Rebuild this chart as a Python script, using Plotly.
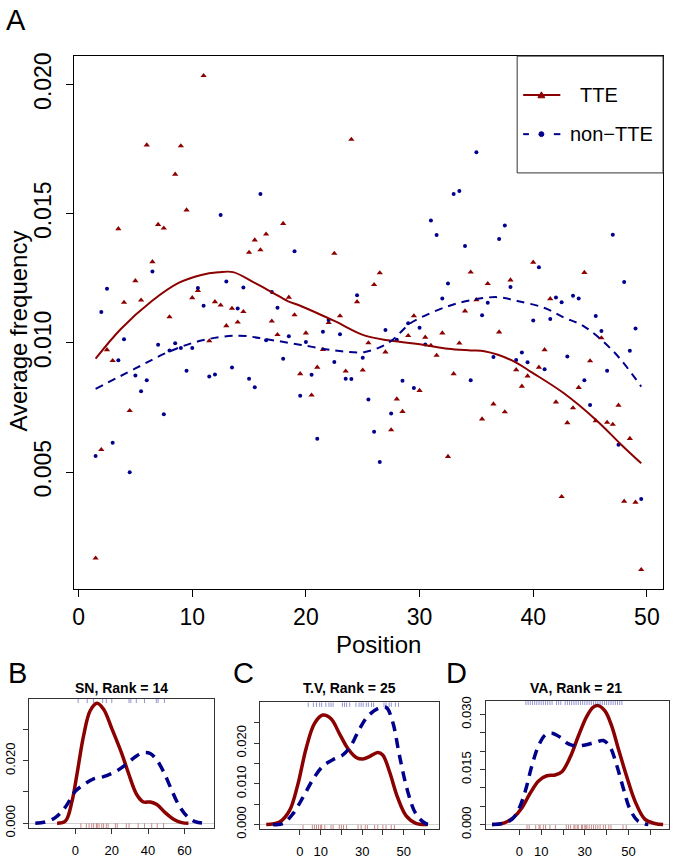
import plotly.graph_objects as go

W, H = 674, 863
FONT = "Liberation Sans, Arial, Helvetica, sans-serif"
RED = "#8B0000"
BLUE = "#00008B"

# ---------------- Panel A data ----------------
positions = [round(1.5 + 0.5 * i, 1) for i in range(97)]

tte_freq = [
    0.001668, 0.005866, 0.009733, 0.009313, 0.014416, 0.011565, 0.007378, 0.012405, 0.011653, 0.017660,
    0.013141, 0.014580, 0.014439, 0.011004, 0.016527, 0.017622, 0.015141, 0.011744, 0.012023, 0.020344,
    0.010076, 0.011592, 0.011462, 0.010660, 0.011336, 0.010802, 0.011210, 0.013500, 0.013981, 0.013599,
    0.014210, 0.010840, 0.010317, 0.014618, 0.011767, 0.011080, 0.008805, 0.010382, 0.007977, 0.009057,
    0.009744, 0.010782, 0.013462, 0.011042, 0.008905, 0.017874, 0.011592, 0.008943, 0.010000, 0.012252,
    0.012710, 0.009645, 0.006630, 0.007824, 0.007340, 0.010279, 0.011042, 0.008156, 0.010218, 0.009897,
    0.009515, 0.010382, 0.005599, 0.008805, 0.009989, 0.011233, 0.012737, 0.011668, 0.007050, 0.012290,
    0.007634, 0.010420, 0.007328, 0.012431, 0.008958, 0.008321, 0.008714, 0.013118, 0.009057, 0.009733,
    0.011706, 0.007710, 0.004046, 0.006908, 0.007481, 0.008271, 0.012721, 0.009302, 0.006985, 0.010191,
    0.006920, 0.006844, 0.007584, 0.003866, 0.006298, 0.003828, 0.001221,
]

nontte_freq = [
    0.005622, 0.011195, 0.012099, 0.006134, 0.009324, 0.010141, 0.004989, 0.008740, 0.008130, 0.008550,
    0.012760, 0.009924, 0.007240, 0.009706, 0.009989, 0.009798, 0.008920, 0.009798, 0.012126, 0.011439,
    0.008702, 0.008779, 0.014950, 0.012378, 0.009046, 0.011336, 0.012149, 0.008615, 0.008282, 0.015763,
    0.010103, 0.011973, 0.011363, 0.009389, 0.010256, 0.013550, 0.007950, 0.010038, 0.008767, 0.006286,
    0.010431, 0.010889, 0.009263, 0.010332, 0.008615, 0.008599, 0.011844, 0.009427, 0.007813, 0.006565,
    0.005393, 0.010496, 0.007263, 0.010126, 0.008538, 0.010763, 0.008256, 0.010584, 0.009935, 0.014733,
    0.014172, 0.011718, 0.012302, 0.015763, 0.015878, 0.013752, 0.008550, 0.017378, 0.011069, 0.011553,
    0.009454, 0.014019, 0.014542, 0.012164, 0.009340, 0.009630, 0.009248, 0.010866, 0.012927, 0.008981,
    0.010927, 0.011756, 0.011576, 0.009477, 0.011821, 0.011718, 0.008550, 0.007595, 0.011042, 0.010458,
    0.008920, 0.014187, 0.006057, 0.012355, 0.009695, 0.010561, 0.003958,
]

tte_smooth_x = [1.5, 3.7, 6.45, 8.8, 10.8, 12.3, 13.6, 15.5, 17.0, 18.4, 19.6, 22.5, 25.2, 27.4,
                30.4, 32.5, 34.5, 35.7, 36.9, 38.5, 39.8, 42.7, 45.6, 47.7, 49.5]
tte_smooth_y = [0.00939, 0.01053, 0.01162, 0.01232, 0.01263, 0.01273, 0.01274, 0.01232, 0.01196,
                0.01162, 0.01142, 0.01085, 0.01028, 0.01009, 0.00992, 0.00977, 0.00971, 0.00968,
                0.00954, 0.00924, 0.00888, 0.00805, 0.00699, 0.00608, 0.00534]

nontte_smooth_x = [1.5, 5.0, 7.9, 10.8, 14.05, 16.7, 19.6, 22.5, 25.2, 27.35, 29.1, 30.1, 32.5,
                   34.8, 36.9, 38.6, 40.95, 42.7, 44.4, 47.1, 49.5]
nontte_smooth_y = [0.00822, 0.00901, 0.00965, 0.01009, 0.01028, 0.01013, 0.00992, 0.00971, 0.00965,
                   0.01003, 0.01073, 0.01098, 0.01142, 0.01168, 0.01177, 0.01162, 0.01136, 0.01098,
                   0.01066, 0.00965, 0.00831]

main_xticks = [0, 10, 20, 30, 40, 50]
main_yticks = [0.005, 0.010, 0.015, 0.020]
main_yticklabels = ["0.005", "0.010", "0.015", "0.020"]

# ---------------- Panel B (SN) ----------------
sn_tte_x = [-10.1, -5.5, -1.9, 0.8, 4.5, 8.1, 11.9, 15.5, 20.1, 25.5, 29.2, 33.8, 37.4, 41.2,
            44.8, 49.4, 54.0, 58.5, 62.2]
sn_tte_d = [0, 0.0007, 0.007, 0.0155, 0.028, 0.036, 0.0384, 0.0365, 0.0302, 0.0223, 0.016, 0.0091,
            0.0068, 0.0068, 0.006, 0.0034, 0.0013, 0.0002, 0]
sn_non_x = [-22.1, -16.6, -11.1, -5.5, -0.1, 4.5, 10.0, 15.5, 21.9, 27.4, 32.8, 37.4, 41.2, 44.8,
            48.5, 52.1, 56.7, 61.3, 65.9, 71.0]
sn_non_d = [0, 0.0004, 0.0018, 0.0052, 0.0102, 0.0123, 0.0142, 0.0149, 0.0165, 0.0186, 0.0212,
            0.0226, 0.0223, 0.0202, 0.0165, 0.0118, 0.006, 0.0023, 0.0005, 0]
sn_tte_rug = [3, 6, 7.5, 9, 10, 11.5, 12, 13, 14.5, 15.5, 17, 18, 22, 23, 28, 29.5, 34.5, 38, 42,
              45, 48.5]
sn_non_rug = [1.5, 6.5, 10, 15, 17, 20, 29.5, 30.5, 33.5, 38, 44.5, 45.5, 49]

# ---------------- Panel C (T.V) ----------------
tv_tte_x = [-16.2, -9.8, -5, -1, 3, 7, 11, 15, 19.1, 23.1, 27.1, 30.3, 33.5, 37.5, 39.9, 43.1,
            47.1, 51.1, 55.9, 61.5]
tv_tte_d = [0, 0.0006, 0.0034, 0.0098, 0.0187, 0.0248, 0.0269, 0.026, 0.0223, 0.0187, 0.0165,
            0.0161, 0.0167, 0.0177, 0.0171, 0.0131, 0.0066, 0.0022, 0.0003, 0]
tv_non_x = [-13, -8.2, -3.4, 1.4, 6.2, 11, 15.8, 20.7, 24.7, 28.7, 32.7, 37.5, 41.5, 44.7, 47.9,
            51.9, 55.9, 60.7, 63.9]
tv_non_d = [0, 0.0002, 0.0026, 0.0066, 0.011, 0.0143, 0.0159, 0.0171, 0.0195, 0.0235, 0.0266,
            0.0285, 0.0288, 0.0252, 0.0171, 0.0082, 0.0026, 0.0002, 0]
tv_tte_rug = [1.5, 6, 7, 8, 9, 10, 10.5, 12, 15, 16, 19, 20, 21, 22.5, 28, 29.5, 31.5, 32.5, 36,
              37.5, 40, 41.5, 44, 45.5]
tv_non_rug = [4, 6.5, 8, 9.5, 10.5, 12.5, 14, 15, 16, 20.5, 21.5, 22.5, 24, 27, 28.5, 29.5, 30.5,
              32, 33, 34.5, 35.5, 40.5, 41.5, 43, 44, 46, 47.5]

# ---------------- Panel D (VA) ----------------
va_tte_x = [-12.5, -7.2, -2.6, 1.2, 5, 8.8, 12.6, 16.4, 19.5, 23.3, 27.1, 30.9, 33.9, 36.2, 39.3,
            42.3, 45.4, 49.2, 53, 57.5, 62.1, 65.9]
va_tte_d = [0, 0.0004, 0.002, 0.0046, 0.0086, 0.0119, 0.0133, 0.0135, 0.0144, 0.0184, 0.0242,
            0.0295, 0.032, 0.0324, 0.0309, 0.0269, 0.0206, 0.0131, 0.0064, 0.0015, 0.0003, 0]
va_non_x = [-12.5, -7.2, -3.3, -0.3, 2.7, 5.8, 8.8, 11.9, 14.9, 18.7, 22.5, 26.3, 30.1, 34.7, 38.5,
            41.6, 44.6, 47.6, 50.7, 54.5, 59.1]
va_non_d = [0, 0.0004, 0.0015, 0.0042, 0.0091, 0.0162, 0.0215, 0.0244, 0.0249, 0.0238, 0.022,
            0.0214, 0.0217, 0.0224, 0.0229, 0.0211, 0.0162, 0.01, 0.0042, 0.0009, 0]
va_tte_rug = [3.5, 4.5, 7.5, 9, 9.5, 11, 12, 14, 16.5, 21.5, 22.5, 23.5, 25, 25.5, 26.5, 27, 28.5,
              29, 30, 30.5, 31, 32, 33, 34, 35, 36, 37, 38.5, 39.5, 41, 42, 47.5, 49]
va_non_rug = [3, 4, 5, 6, 7, 8, 9, 10, 11, 12, 13, 14, 15, 17, 18, 19, 21, 22, 23, 24, 25, 26, 27,
              28, 29, 30, 31, 32, 33, 34, 35, 36, 37, 38, 39, 40, 41, 42, 43, 44, 45, 46, 47]

panel_titles = ["SN, Rank = 14", "T.V, Rank = 25", "VA, Rank = 21"]


def fx(p):
    return p / W


def fy(p):
    return 1 - p / H


fig = go.Figure()

# Panel A traces
fig.add_trace(go.Scatter(x=positions, y=tte_freq, mode="markers", xaxis="x", yaxis="y",
                         marker=dict(symbol="triangle-up", size=5.5, color=RED), showlegend=False))
fig.add_trace(go.Scatter(x=positions, y=nontte_freq, mode="markers", xaxis="x", yaxis="y",
                         marker=dict(symbol="circle", size=4, color=BLUE), showlegend=False))
fig.add_trace(go.Scatter(x=tte_smooth_x, y=tte_smooth_y, mode="lines", xaxis="x", yaxis="y",
                         line=dict(color=RED, width=2, shape="spline"), showlegend=False))
fig.add_trace(go.Scatter(x=nontte_smooth_x, y=nontte_smooth_y, mode="lines", xaxis="x", yaxis="y",
                         line=dict(color=BLUE, width=2, shape="spline", dash="8px,6px"),
                         showlegend=False))

panels = [
    ("x2", "y2", sn_tte_x, sn_tte_d, sn_non_x, sn_non_d, sn_tte_rug, sn_non_rug),
    ("x3", "y3", tv_tte_x, tv_tte_d, tv_non_x, tv_non_d, tv_tte_rug, tv_non_rug),
    ("x4", "y4", va_tte_x, va_tte_d, va_non_x, va_non_d, va_tte_rug, va_non_rug),
]
shapes = []
for xa, ya, tx, td, nx, nd, trug, nrug in panels:
    fig.add_trace(go.Scatter(x=tx, y=td, mode="lines", xaxis=xa, yaxis=ya,
                             line=dict(color=RED, width=3.5, shape="spline"), showlegend=False))
    fig.add_trace(go.Scatter(x=nx, y=nd, mode="lines", xaxis=xa, yaxis=ya,
                             line=dict(color=BLUE, width=3.5, shape="spline", dash="10px,7px"),
                             showlegend=False))
    for r in trug:
        shapes.append(dict(type="line", xref=xa, yref=ya + " domain", x0=r, x1=r, y0=0, y1=0.035,
                           line=dict(color="rgba(160,40,40,0.55)", width=1)))
    for r in nrug:
        shapes.append(dict(type="line", xref=xa, yref=ya + " domain", x0=r, x1=r, y0=0.965, y1=1,
                           line=dict(color="rgba(60,60,170,0.55)", width=1)))

axis_common = dict(showgrid=False, showline=True, mirror=True, linecolor="black", linewidth=1,
                   ticks="outside", tickcolor="black", tickwidth=1)

layout = dict(
    width=W, height=H, margin=dict(l=0, r=0, t=0, b=0),
    paper_bgcolor="white", plot_bgcolor="white", showlegend=False,
    font=dict(family=FONT, color="black"),
    xaxis=dict(domain=[fx(72), fx(663)], range=[-0.42, 51.42], tickvals=main_xticks,
               ticklen=7, zeroline=False, anchor="y",
               tickfont=dict(family=FONT, color="black", size=23), **axis_common),
    yaxis=dict(domain=[fy(595), fy(53)], range=[0.00046, 0.0211], tickvals=main_yticks,
               ticktext=main_yticklabels, tickangle=-90, ticklen=7, zeroline=False, anchor="x",
               ticklabelstandoff=6,
               tickfont=dict(family=FONT, color="black", size=23), **axis_common),
)

small = [
    ("xaxis2", "yaxis2", "x2", "y2", (27, 212.5), (706, 837.5), [-25.6, 76.2],
     [-0.0015, 0.0399], [0, 20, 40, 60], ["0", "20", "40", "60"],
     [0, 0.01, 0.02, 0.03], ["0.000", "", "0.020", ""]),
    ("xaxis3", "yaxis3", "x3", "y3", (259, 438.5), (710, 839), [-19.1, 67.1],
     [-0.0012, 0.0300], [0, 10, 20, 30, 40, 50, 60], ["0", "10", "", "30", "", "50", ""],
     [0, 0.005, 0.01, 0.015, 0.02, 0.025], ["0.000", "", "0.010", "", "0.020", ""]),
    ("xaxis4", "yaxis4", "x4", "y4", (485, 669), (708, 839), [-15.5, 68.6],
     [-0.0013, 0.0338], [0, 10, 20, 30, 40, 50, 60], ["0", "10", "", "30", "", "50", ""],
     [0, 0.005, 0.01, 0.015, 0.02, 0.025, 0.03], ["0.000", "", "", "0.015", "", "", "0.030"]),
]
for xn, yn, xr, yr, xdom, ydom, xrng, yrng, xt, xl, yt, yl in small:
    ac = dict(axis_common)
    ac["linecolor"] = "#333333"
    ac["tickcolor"] = "#333333"
    layout[xn] = dict(domain=[fx(xdom[0]), fx(xdom[1])], range=xrng, tickvals=xt, ticktext=xl,
                      ticklen=5, zeroline=False, anchor=yr, ticklabelstandoff=5,
                      tickfont=dict(family=FONT, color="black", size=13), **ac)
    layout[yn] = dict(domain=[fy(ydom[1]), fy(ydom[0])], range=yrng, tickvals=yt, ticktext=yl,
                      tickangle=-90, ticklen=5, zeroline=True, zerolinecolor="#d0d0d0",
                      zerolinewidth=1, anchor=xr, ticklabelstandoff=3,
                      tickfont=dict(family=FONT, color="black", size=13), **ac)

fig.update_layout(**layout)

annotations = []


def txt(text, x, y, size, xanchor="center", yanchor="middle", bold=False, angle=0):
    annotations.append(dict(text=("<b>%s</b>" % text) if bold else text, x=fx(x), y=fy(y),
                            xref="paper", yref="paper", showarrow=False, xanchor=xanchor,
                            yanchor=yanchor, textangle=angle,
                            font=dict(family=FONT, size=size, color="black")))


# Panel letters
txt("A", 14, 16, 29)
txt("B", 15.5, 680.5, 29)
txt("C", 242.5, 680.5, 29)
txt("D", 455.5, 680.5, 29)
# Axis titles
txt("Position", 377.5, 651, 24)
txt("Average frequency", 17, 332, 24, angle=-90)
# Panel titles
txt(panel_titles[0], 119.5, 695, 14, bold=True)
txt(panel_titles[1], 349, 695, 14, bold=True)
txt(panel_titles[2], 575.5, 695, 14, bold=True)

# Legend (drawn in paper space)
shapes.append(dict(type="rect", xref="paper", yref="paper", x0=fx(516.7), x1=fx(663),
                   y0=fy(171.7), y1=fy(53), line=dict(color="#333333", width=1),
                   fillcolor="white", layer="above"))
shapes.append(dict(type="line", xref="paper", yref="paper", x0=fx(522.7), x1=fx(560),
                   y0=fy(92.5), y1=fy(92.5), line=dict(color=RED, width=2)))
shapes.append(dict(type="path", xref="paper", yref="paper",
                   path="M %f %f L %f %f L %f %f Z" % (fx(537.5), fy(95.3), fx(544.5), fy(95.3),
                                                      fx(541), fy(89.3)),
                   fillcolor=RED, line=dict(color=RED, width=1)))
for a, b in [(522.7, 528.5), (553.5, 560)]:
    shapes.append(dict(type="line", xref="paper", yref="paper", x0=fx(a), x1=fx(b),
                       y0=fy(132.3), y1=fy(132.3), line=dict(color=BLUE, width=2)))
shapes.append(dict(type="circle", xref="paper", yref="paper", x0=fx(538.5), x1=fx(543.5),
                   y0=fy(134.8), y1=fy(129.8), fillcolor=BLUE, line=dict(color=BLUE, width=1)))
txt("TTE", 578, 92.5, 20, xanchor="left")
txt("non\u2212TTE", 568, 132.3, 20, xanchor="left")

fig.update_layout(shapes=shapes, annotations=annotations)

fig.write_html("out.html", config={"displayModeBar": False},
               post_script="document.body.style.margin='0px';document.body.style.overflow='hidden';")
